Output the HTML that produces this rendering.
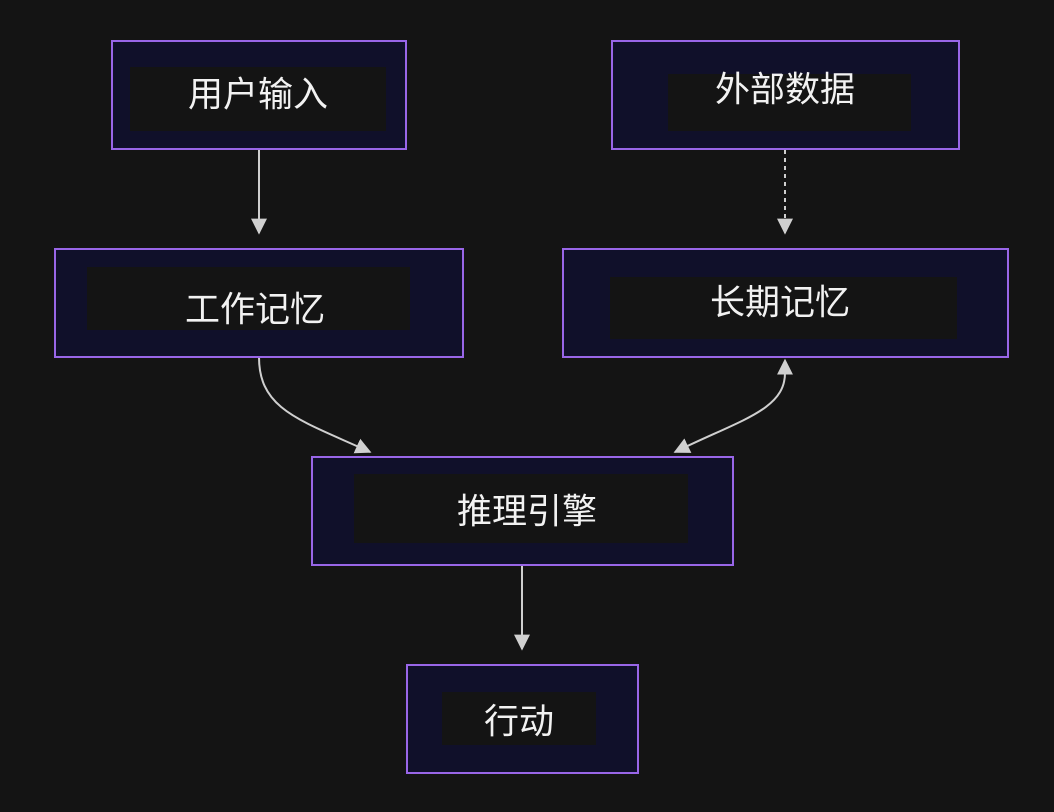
<!DOCTYPE html>
<html><head><meta charset="utf-8"><style>
html,body{margin:0;padding:0;background:#141414;}
svg{display:block}
text{font-family:"Liberation Sans","WenQuanYi Zen Hei","Noto Sans CJK SC",sans-serif;font-size:35px;fill:#f2f2f2;text-anchor:middle;dominant-baseline:central}
</style></head><body>
<svg width="1054" height="812" viewBox="0 0 1054 812" xmlns="http://www.w3.org/2000/svg">
<defs>
<marker id="a" viewBox="0 0 10 10" refX="9" refY="5" markerWidth="8" markerHeight="8" markerUnits="userSpaceOnUse" orient="auto"><path d="M0,0L10,5L0,10z" fill="#d0d0d0"/></marker>
<marker id="as" viewBox="0 0 10 10" refX="1" refY="5" markerWidth="16" markerHeight="16" markerUnits="userSpaceOnUse" orient="auto-start-reverse"><path d="M0,0L10,5L0,10z" fill="#d0d0d0"/></marker>
<marker id="ae" viewBox="0 0 10 10" refX="9" refY="5" markerWidth="16" markerHeight="16" markerUnits="userSpaceOnUse" orient="auto"><path d="M0,0L10,5L0,10z" fill="#d0d0d0"/></marker>
</defs>
<g stroke="#cfcfcf" stroke-width="2" fill="none">
<path d="M259,150V233" marker-end="url(#ae)"/>
<path d="M785,150V233" stroke-dasharray="4,4" marker-end="url(#ae)"/>
<path d="M259,357C259,410 300,420 370,452" marker-end="url(#ae)"/>
<path d="M785,373C785,410 740,420 675,452" marker-start="url(#as)" marker-end="url(#ae)"/>
<path d="M522,566V649" marker-end="url(#ae)"/>
</g>
<g fill="#10102a" stroke="#9966e8" stroke-width="2">
<rect x="112" y="41" width="294" height="108"/>
<rect x="612" y="41" width="347" height="108"/>
<rect x="55" y="249" width="408" height="108"/>
<rect x="563" y="249" width="445" height="108"/>
<rect x="312" y="457" width="421" height="108"/>
<rect x="407" y="665" width="231" height="108"/>
</g>
<g fill="#141414">
<rect x="130" y="67" width="256" height="64"/>
<rect x="668" y="74" width="243" height="57"/>
<rect x="87" y="267" width="323" height="63"/>
<rect x="610" y="277" width="347" height="62"/>
<rect x="354" y="474" width="334" height="69"/>
<rect x="442" y="692" width="154" height="53"/>
</g>
<text x="258" y="95">用户输入</text>
<text x="785" y="90">外部数据</text>
<text x="255" y="310">工作记忆</text>
<text x="780" y="303">长期记忆</text>
<text x="527" y="512">推理引擎</text>
<text x="519" y="722">行动</text>
</svg>
</body></html>
